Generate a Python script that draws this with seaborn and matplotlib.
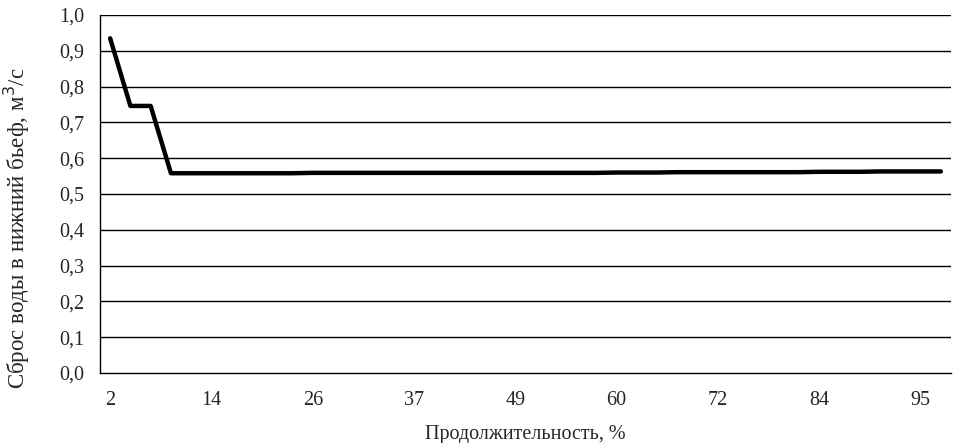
import matplotlib
matplotlib.use("Agg")
import matplotlib.pyplot as plt
import numpy as np
import pandas as pd
import seaborn as sns

# duration, % (42 categories) and discharge to the tailwater, m3/s
duration = [2, 5, 7, 9, 12, 14, 16, 19, 21, 23, 26, 28, 30, 33, 35, 37, 40, 42,
            44, 47, 49, 51, 53, 56, 58, 60, 63, 65, 67, 70, 72, 74, 77, 79, 81,
            84, 86, 88, 91, 93, 95, 98]
discharge = [0.935, 0.746, 0.746, 0.558, 0.558, 0.558, 0.558, 0.558, 0.558,
             0.558, 0.559, 0.559, 0.559, 0.559, 0.559, 0.559, 0.559, 0.559,
             0.559, 0.559, 0.559, 0.559, 0.559, 0.559, 0.559, 0.560, 0.560,
             0.560, 0.561, 0.561, 0.561, 0.561, 0.561, 0.561, 0.561, 0.562,
             0.562, 0.562, 0.563, 0.563, 0.563, 0.563]
y_ticks = [0.0, 0.1, 0.2, 0.3, 0.4, 0.5, 0.6, 0.7, 0.8, 0.9, 1.0]

df = pd.DataFrame({"pos": np.arange(len(duration)), "q": discharge})

sns.set_theme(style="white")
plt.rcParams["font.family"] = ["Liberation Serif", "DejaVu Serif"]

fig = plt.figure(figsize=(9.59, 4.43), dpi=100)
ax = fig.add_axes([100 / 959, 70 / 443, 851 / 959, 358 / 443])

for yv in y_ticks[1:]:
    ax.axhline(yv, color="black", lw=1.0, zorder=1)

sns.lineplot(data=df, x="pos", y="q", color="black", lw=3.2, ax=ax, zorder=3)

ax.set_xlim(-0.5, len(duration) - 0.5)
ax.set_ylim(0, 1.0)
ax.set_yticks(y_ticks)
ax.set_yticklabels([f"{v:.1f}".replace(".", ",") for v in y_ticks], fontsize=14.5)

major = list(range(0, len(duration), 5))
ax.set_xticks(major)
ax.set_xticklabels([str(duration[i]) for i in major], fontsize=14.5)
ax.set_xticks(np.arange(-0.5, len(duration), 1), minor=True)
ax.tick_params(axis="x", which="major", length=0, pad=13)
ax.tick_params(axis="x", which="minor", length=5, width=1, color="black", direction="out")
ax.tick_params(axis="y", which="major", length=5, width=1, color="black", direction="out", pad=6)

ax.set_xlabel("Продолжительность, %", fontsize=14.5, labelpad=11)
ax.set_ylabel("Сброс воды в нижний бьеф, м$^3$/с", fontsize=16.5)
ax.yaxis.label.set_va("center")
ax.yaxis.set_label_coords(-0.0975, 0.405)

sns.despine(ax=ax, top=True, right=True)
for s in ["left", "bottom"]:
    ax.spines[s].set_color("black")
    ax.spines[s].set_linewidth(1.0)

fig.savefig("out.png", dpi=100)
